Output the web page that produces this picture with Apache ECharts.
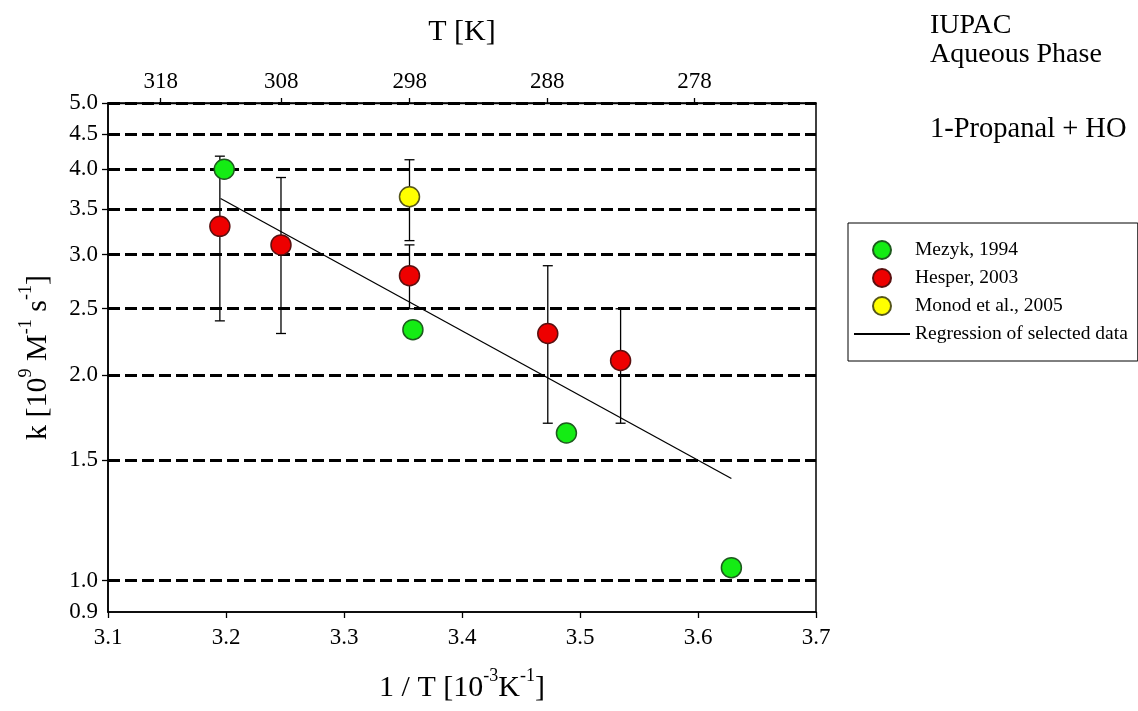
<!DOCTYPE html>
<html>
<head>
<meta charset="utf-8">
<title>1-Propanal + HO</title>
<script src="https://cdn.jsdelivr.net/npm/echarts@6/dist/echarts.min.js"></script>
<style>
  html, body { margin: 0; padding: 0; background: #fff; }
  #chart { width: 1138px; height: 711px; }
</style>
</head>
<body>
<div id="chart"></div>
<script>
// 1/T in 10^-3 K^-1, k in 10^9 M^-1 s^-1
var mezykX = [3.1985, 3.3584, 3.4885, 3.6283];
var mezykK = [4.00, 2.33, 1.645, 1.045];

var hesperX = [3.1948, 3.2466, 3.3555, 3.4727, 3.5344];
var hesperK = [3.30, 3.10, 2.795, 2.30, 2.10];
var hesperLow = [2.40, 2.30, 2.50, 1.70, 1.70];
var hesperHigh = [4.18, 3.89, 3.10, 2.89, 2.50];

var monodX = [3.3555];
var monodK = [3.646];
var monodLow = [3.145];
var monodHigh = [4.13];

var regressionX = [3.1954, 3.6283];
var regressionK = [3.625, 1.411];

var topTicksT = [318, 308, 298, 288, 278];
var yLabelValues = [0.9, 1.0, 1.5, 2.0, 2.5, 3.0, 3.5, 4.0, 4.5, 5.0];
var yGridValues = [1.0, 1.5, 2.0, 2.5, 3.0, 3.5, 4.0, 4.5, 5.0];

var FONT = "Liberation Serif";

function pairs(xs, ys) {
  return xs.map(function (x, i) { return [x, ys[i]]; });
}
function bars(xs, lo, hi) {
  return xs.map(function (x, i) { return [x, lo[i], hi[i]]; });
}

function renderErrorBar(params, api) {
  var x = api.value(0);
  var top = api.coord([x, api.value(2)]);
  var bot = api.coord([x, api.value(1)]);
  var cap = 5;
  var style = { stroke: "#000", lineWidth: 1.3 };
  return {
    type: "group",
    children: [
      { type: "line", shape: { x1: top[0], y1: top[1], x2: bot[0], y2: bot[1] }, style: style },
      { type: "line", shape: { x1: top[0] - cap, y1: top[1], x2: top[0] + cap, y2: top[1] }, style: style },
      { type: "line", shape: { x1: bot[0] - cap, y1: bot[1], x2: bot[0] + cap, y2: bot[1] }, style: style }
    ]
  };
}

var nameRich = {
  b: { fontFamily: FONT, fontSize: 30, color: "#000", lineHeight: 36, verticalAlign: "bottom" },
  sup: { fontFamily: FONT, fontSize: 18, color: "#000", lineHeight: 19, verticalAlign: "top" }
};

var chart = echarts.init(document.getElementById("chart"));

chart.setOption({
  animation: false,
  backgroundColor: "#fff",
  textStyle: { fontFamily: FONT },
  title: [
    {
      text: "IUPAC\nAqueous Phase",
      left: 930,
      top: 11,
      padding: 0,
      textStyle: { fontFamily: FONT, fontSize: 28, fontWeight: "normal", color: "#000", lineHeight: 29 }
    },
    {
      text: "1-Propanal + HO",
      left: 930,
      top: 115,
      padding: 0,
      textStyle: { fontFamily: FONT, fontSize: 28.5, fontWeight: "normal", color: "#000" }
    }
  ],
  legend: {
    orient: "vertical",
    left: 848,
    top: 223,
    padding: [17, 10, 17, 5],
    borderColor: "#000",
    borderWidth: 1,
    itemWidth: 56,
    itemHeight: 18,
    itemGap: 8,
    textStyle: { fontFamily: FONT, fontSize: 19.5, color: "#000" },
    data: [
      "Mezyk, 1994",
      "Hesper, 2003",
      "Monod et al., 2005",
      { name: "Regression of selected data", itemStyle: { opacity: 0 } }
    ]
  },
  grid: {
    left: 108,
    right: 322,
    top: 103,
    bottom: 99,
    show: true,
    borderColor: "#000",
    borderWidth: 1.5,
    backgroundColor: "transparent"
  },
  xAxis: [
    {
      type: "value",
      position: "bottom",
      min: 3.1,
      max: 3.7,
      interval: 0.1,
      name: "{b|1 / T [10}{sup|-3}{b|K}{sup|-1}{b|]}",
      nameLocation: "middle",
      nameGap: 55,
      nameTextStyle: { rich: nameRich },
      axisLine: { lineStyle: { color: "#000", width: 1.5 } },
      axisTick: { inside: false, length: 6, lineStyle: { color: "#000", width: 1.3 } },
      axisLabel: {
        margin: 14,
        fontFamily: FONT,
        fontSize: 23,
        color: "#000",
        formatter: function (v) { return v.toFixed(1); }
      },
      splitLine: { show: false }
    },
    {
      type: "value",
      position: "top",
      min: 3.1,
      max: 3.7,
      name: "T [K]",
      nameLocation: "middle",
      nameGap: 56,
      nameTextStyle: { fontFamily: FONT, fontSize: 30, color: "#000" },
      axisLine: { lineStyle: { color: "#000", width: 1.3 } },
      axisTick: {
        inside: false,
        length: 5,
        lineStyle: { color: "#000", width: 1.3 },
        customValues: topTicksT.map(function (t) { return 1000 / t; })
      },
      axisLabel: {
        margin: 10,
        fontFamily: FONT,
        fontSize: 23,
        color: "#000",
        customValues: topTicksT.map(function (t) { return 1000 / t; }),
        formatter: function (v) { return String(Math.round(1000 / v)); }
      },
      splitLine: { show: false }
    }
  ],
  yAxis: {
    type: "log",
    logBase: 10,
    min: 0.9,
    max: 5.0,
    name: "{b|k [10}{sup|9}{b| M}{sup|-1}{b| s}{sup|-1}{b|]}",
    nameLocation: "middle",
    nameGap: 55,
    nameRotate: 90,
    nameTextStyle: { rich: nameRich },
    axisLine: { lineStyle: { color: "#000", width: 1.5 } },
    axisTick: {
      inside: false,
      length: 6,
      lineStyle: { color: "#000", width: 1.3 },
      customValues: yGridValues
    },
    axisLabel: {
      margin: 10,
      fontFamily: FONT,
      fontSize: 23,
      color: "#000",
      customValues: yLabelValues,
      formatter: function (v) { return Number(v).toFixed(1); }
    },
    splitLine: {
      show: true,
      lineStyle: { color: "#000", width: 3, type: [12, 5] }
    }
  },
  series: [
    {
      name: "Regression of selected data",
      type: "line",
      data: pairs(regressionX, regressionK),
      symbol: "none",
      showSymbol: false,
      lineStyle: { color: "#000", width: 1.3 },
      itemStyle: { color: "#000" },
      z: 3
    },
    {
      name: "errorbars",
      type: "custom",
      renderItem: renderErrorBar,
      encode: { x: 0, y: [1, 2] },
      data: bars(hesperX, hesperLow, hesperHigh).concat(bars(monodX, monodLow, monodHigh)),
      z: 4
    },
    {
      name: "Mezyk, 1994",
      type: "scatter",
      data: pairs(mezykX, mezykK),
      symbol: "circle",
      symbolSize: 20,
      itemStyle: { color: "#14ec14", borderColor: "#1e5a1e", borderWidth: 1.5, opacity: 1 },
      z: 5
    },
    {
      name: "Hesper, 2003",
      type: "scatter",
      data: pairs(hesperX, hesperK),
      symbol: "circle",
      symbolSize: 20,
      itemStyle: { color: "#ee0000", borderColor: "#5a1010", borderWidth: 1.5, opacity: 1 },
      z: 5
    },
    {
      name: "Monod et al., 2005",
      type: "scatter",
      data: pairs(monodX, monodK),
      symbol: "circle",
      symbolSize: 20,
      itemStyle: { color: "#ffff00", borderColor: "#55551a", borderWidth: 1.5, opacity: 1 },
      z: 5
    }
  ]
});
</script>
</body>
</html>
